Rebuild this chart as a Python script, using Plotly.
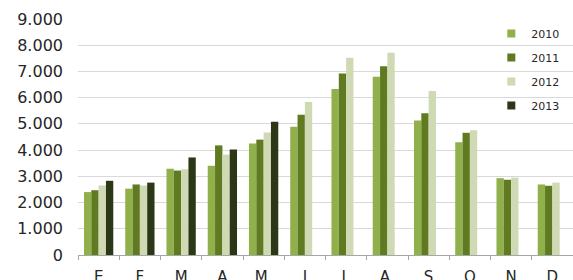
import plotly.graph_objects as go

months = ["E", "F", "M", "A", "M ", "J", "J ", "A ", "S", "O", "N", "D"]
years = ["2010", "2011", "2012", "2013"]
v2010 = [2400, 2530, 3290, 3400, 4250, 4890, 6330, 6800, 5130, 4300, 2930, 2690]
v2011 = [2470, 2690, 3220, 4180, 4400, 5350, 6920, 7200, 5410, 4660, 2870, 2640]
v2012 = [2650, 2650, 3270, 3830, 4670, 5830, 7520, 7710, 6250, 4760, 2950, 2760]
v2013 = [2830, 2760, 3720, 4020, 5080, None, None, None, None, None, None, None]
series = [v2010, v2011, v2012, v2013]
colors = ["#8FB04A", "#607A22", "#CFD9B3", "#2C3718"]
ytickvals = [0, 1000, 2000, 3000, 4000, 5000, 6000, 7000, 8000, 9000]

fig = go.Figure()
for name, vals, col in zip(years, series, colors):
    fig.add_trace(go.Bar(x=months, y=vals, name=name, marker_color=col,
                         marker_line_width=0, showlegend=False))
for name, col in zip(years, colors):
    fig.add_trace(go.Scatter(x=[None], y=[None], mode="markers", name=name,
                             marker=dict(symbol="square", size=8, color=col),
                             legendgroup=name, showlegend=True))

fig.update_layout(
    width=573, height=280,
    margin=dict(l=78, r=0, t=19, b=25, autoexpand=False),
    paper_bgcolor="white", plot_bgcolor="white",
    barmode="group", bargap=0.29, bargroupgap=0,
    separators=",.",
    font=dict(family="DejaVu Sans", size=15, color="#262626"),
    legend=dict(x=0.835, y=1.0, xanchor="left", yanchor="top",
                font=dict(size=11, color="#262626"), tracegroupgap=5,
                itemwidth=30, bgcolor="rgba(0,0,0,0)"),
    xaxis=dict(type="category", tickson="boundaries", ticks="outside",
               ticklen=4, tickcolor="#A6A6A6", showline=True,
               linecolor="#A6A6A6", linewidth=1, showgrid=False,
               automargin=False, ticklabelstandoff=8,
               tickfont=dict(size=15)),
    yaxis=dict(range=[0, 9000], tickvals=ytickvals, tickformat=",d",
               showgrid=True, gridcolor="#D9D9D9", gridwidth=1,
               zeroline=False, ticks="", ticklabelstandoff=14,
               automargin=False, tickfont=dict(size=16)),
)
fig.write_html("out.html", config={"displayModeBar": False},
               post_script="document.body.style.margin='0';document.body.style.overflow='hidden';")
